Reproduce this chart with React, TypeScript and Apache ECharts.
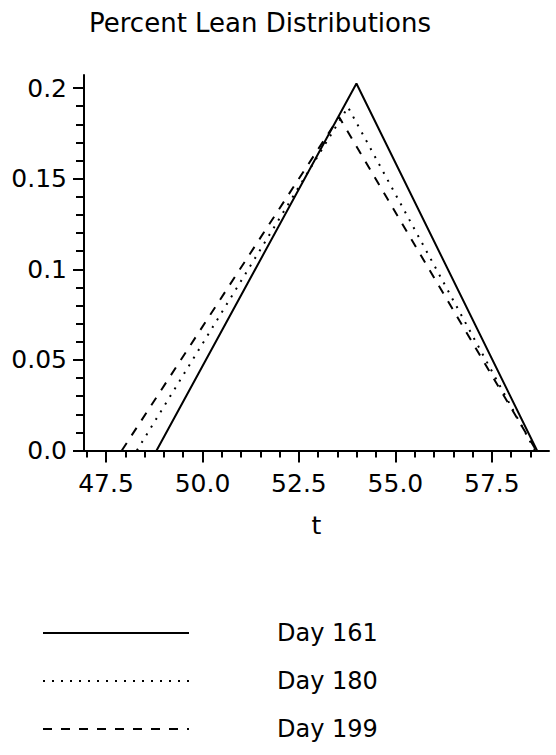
import React, { useEffect, useRef } from "react";
import * as echarts from "echarts";

const TITLE = "Percent Lean Distributions";
const SERIES_NAMES = ["Day 161", "Day 180", "Day 199"];
const DAY161: [number, number][] = [
  [48.81, 0],
  [53.99, 0.2025],
  [58.67, 0],
];
const DAY180: [number, number][] = [
  [48.3, 0],
  [53.77, 0.1895],
  [58.62, 0],
];
const DAY199: [number, number][] = [
  [47.91, 0],
  [53.54, 0.184],
  [58.65, 0],
];
const X_MIN = 46.93;
const X_MAX = 58.98;
const Y_MIN = 0;
const Y_MAX = 0.2072;
const X_MAJOR = [47.5, 50, 52.5, 55, 57.5];
const X_MINOR = [47, 48, 48.5, 49, 49.5, 50.5, 51, 51.5, 52, 53, 53.5, 54, 54.5, 55.5, 56, 56.5, 57, 58, 58.5];
const Y_MAJOR = [0, 0.05, 0.1, 0.15, 0.2];
const Y_MINOR = [0.01, 0.02, 0.03, 0.04, 0.06, 0.07, 0.08, 0.09, 0.11, 0.12, 0.13, 0.14, 0.16, 0.17, 0.18, 0.19];

const FONT = "DejaVu Sans";

export default function App() {
  const ref = useRef<HTMLDivElement>(null);
  useEffect(() => {
    if (!ref.current) return;
    const chart = echarts.init(ref.current, null, { renderer: "svg" });
    const axisLine = { show: true, onZero: false, lineStyle: { color: "#000", width: 2 } };
    const tickStyle = { color: "#000", width: 2 };
    chart.setOption({
      animation: false,
      backgroundColor: "#fff",
      title: {
        text: TITLE,
        left: 89,
        top: 10,
        padding: 0,
        textStyle: { fontSize: 26, fontWeight: "normal", fontFamily: FONT, color: "#000" },
      },
      grid: { left: 84, right: 7, top: 75, bottom: 304.5, containLabel: false },
      legend: {
        data: SERIES_NAMES,
        orient: "vertical",
        left: 42,
        top: 621,
        padding: 0,
        itemWidth: 146,
        itemHeight: 24,
        itemGap: 24,
        selectedMode: false,
        itemStyle: { color: "rgba(0,0,0,0)", borderWidth: 0, opacity: 0 },
        textStyle: { fontSize: 24, fontFamily: FONT, color: "#000", padding: [0, 0, 0, 83] },
      },
      xAxis: [
        {
          type: "value",
          min: X_MIN,
          max: X_MAX,
          position: "bottom",
          axisLine,
          splitLine: { show: false },
          axisTick: { show: true, customValues: X_MAJOR, length: 12, lineStyle: tickStyle },
          axisLabel: {
            customValues: X_MAJOR,
            formatter: (v: number) => v.toFixed(1),
            fontSize: 25,
            fontFamily: FONT,
            color: "#000",
            margin: 20,
          },
          name: "t",
          nameLocation: "middle",
          nameGap: 62,
          nameTextStyle: { fontSize: 25, fontFamily: FONT, color: "#000" },
        },
        {
          type: "value",
          min: X_MIN,
          max: X_MAX,
          position: "bottom",
          axisLine: { show: false },
          splitLine: { show: false },
          axisTick: { show: true, customValues: X_MINOR, length: 7, lineStyle: tickStyle },
          axisLabel: { show: false },
        },
      ],
      yAxis: [
        {
          type: "value",
          min: Y_MIN,
          max: Y_MAX,
          position: "left",
          axisLine,
          splitLine: { show: false },
          axisTick: { show: true, customValues: Y_MAJOR, length: 11, lineStyle: tickStyle },
          axisLabel: {
            customValues: Y_MAJOR,
            formatter: (v: number) => (v === 0 ? "0.0" : String(v)),
            fontSize: 25,
            fontFamily: FONT,
            color: "#000",
            margin: 17,
          },
        },
        {
          type: "value",
          min: Y_MIN,
          max: Y_MAX,
          position: "left",
          axisLine: { show: false },
          splitLine: { show: false },
          axisTick: { show: true, customValues: Y_MINOR, length: 8, lineStyle: tickStyle },
          axisLabel: { show: false },
        },
      ],
      series: [
        {
          name: SERIES_NAMES[0],
          type: "line",
          data: DAY161,
          symbol: "none",
          showSymbol: false,
          lineStyle: { color: "#000", width: 2, type: "solid" },
          itemStyle: { color: "#000" },
        },
        {
          name: SERIES_NAMES[1],
          type: "line",
          data: DAY180,
          symbol: "none",
          showSymbol: false,
          lineStyle: { color: "#000", width: 2, type: [2, 7] },
          itemStyle: { color: "#000" },
        },
        {
          name: SERIES_NAMES[2],
          type: "line",
          data: DAY199,
          symbol: "none",
          showSymbol: false,
          lineStyle: { color: "#000", width: 2, type: [9, 9] },
          itemStyle: { color: "#000" },
        },
      ],
    });
    return () => chart.dispose();
  }, []);
  return (
    <div
      ref={ref}
      style={{ position: "absolute", left: 0, top: 0, width: 556, height: 755, background: "#fff" }}
    />
  );
}
